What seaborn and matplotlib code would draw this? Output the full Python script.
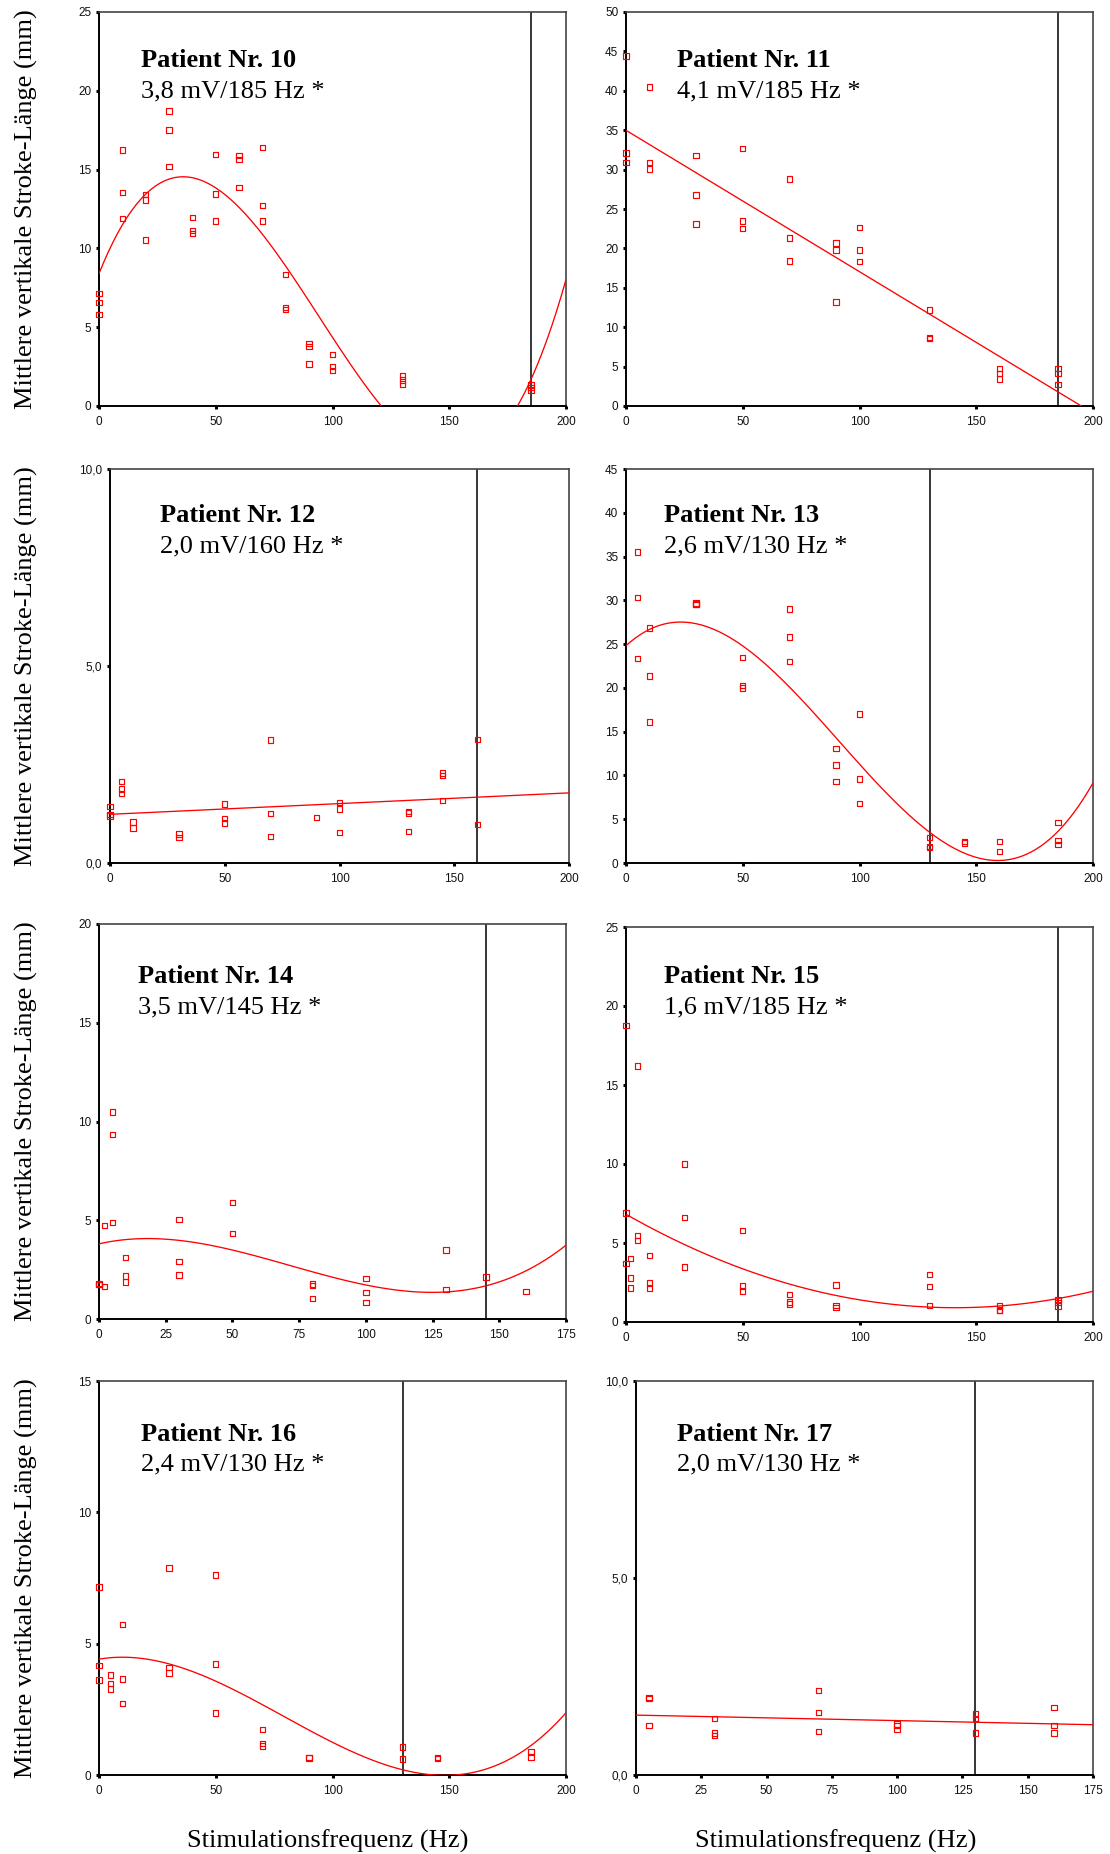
import numpy as np
import pandas as pd
import matplotlib
matplotlib.use("Agg")
import matplotlib.pyplot as plt
from matplotlib.ticker import FuncFormatter, MultipleLocator
import seaborn as sns

# ---------------------------------------------------------------------------
# Measured stroke length (mm) per stimulation frequency (Hz), patients 10-17
# ---------------------------------------------------------------------------
p10_freq = [0, 0, 0, 10, 10, 10, 20, 20, 20, 30, 30, 30, 40, 40, 40, 50, 50, 50,
            60, 60, 60, 70, 70, 70, 80, 80, 80, 90, 90, 90, 100, 100, 100,
            130, 130, 130, 185, 185, 185]
p10_len = [7.15, 6.56, 5.82, 16.25, 13.55, 11.9, 13.42, 13.08, 10.54, 18.73, 17.52, 15.2,
           11.96, 11.13, 10.96, 15.94, 13.46, 11.75, 15.9, 15.64, 13.86, 16.4, 12.72, 11.75,
           8.36, 6.26, 6.12, 3.98, 3.77, 2.67, 3.28, 2.5, 2.24, 1.9, 1.65, 1.4, 1.33, 1.16, 1.02]

p11_freq = [0, 0, 0, 10, 10, 10, 30, 30, 30, 50, 50, 50, 70, 70, 70, 90, 90, 90,
            100, 100, 100, 130, 130, 130, 160, 160, 160, 185, 185, 185]
p11_len = [44.4, 32.1, 30.9, 40.5, 30.94, 30.1, 31.8, 26.8, 23.1, 32.7, 23.5, 22.5,
           28.8, 21.3, 18.4, 20.7, 19.8, 13.2, 22.65, 19.8, 18.3, 12.2, 8.66, 8.54,
           4.73, 4.1, 3.42, 4.73, 4.1, 2.75]

p12_freq = [0, 0, 0, 5, 5, 5, 10, 10, 30, 30, 50, 50, 50, 70, 70, 70, 90,
            100, 100, 100, 130, 130, 130, 145, 145, 145, 160, 160]
p12_len = [1.44, 1.23, 1.19, 2.07, 1.88, 1.77, 1.04, 0.89, 0.74, 0.65, 1.5, 1.13, 1.02,
           3.12, 1.25, 0.68, 1.15, 1.54, 1.37, 0.77, 1.31, 1.27, 0.80, 2.28, 2.22, 1.58,
           3.14, 0.98]

p13_freq = [5, 5, 5, 10, 10, 10, 30, 30, 30, 50, 50, 50, 70, 70, 70, 90, 90, 90,
            100, 100, 100, 130, 130, 130, 145, 145, 160, 160, 185, 185, 185]
p13_len = [35.5, 30.3, 23.35, 26.85, 21.34, 16.1, 29.7, 29.6, 29.5, 23.5, 20.3, 20.0,
           29.0, 25.8, 23.0, 13.1, 11.2, 9.3, 17.0, 9.6, 6.8, 2.9, 1.9, 1.8,
           2.47, 2.28, 2.47, 1.33, 4.6, 2.59, 2.09]

p14_freq = [0, 0, 0, 2, 2, 5, 5, 5, 10, 10, 10, 30, 30, 30, 50, 50, 80, 80, 80,
            100, 100, 100, 130, 130, 145, 160]
p14_len = [1.79, 1.76, 1.74, 4.74, 1.64, 10.48, 9.35, 4.88, 3.12, 2.18, 1.87, 5.03, 2.9,
           2.23, 5.89, 4.32, 1.77, 1.69, 1.03, 2.06, 1.33, 0.84, 3.49, 1.49, 2.13, 1.38]

p15_freq = [0, 0, 0, 2, 2, 2, 5, 5, 5, 10, 10, 10, 25, 25, 25, 50, 50, 50, 70, 70, 70,
            90, 90, 90, 130, 130, 130, 160, 160, 160, 185, 185, 185]
p15_len = [18.77, 6.91, 3.7, 4.0, 2.79, 2.14, 16.2, 5.48, 5.14, 4.2, 2.47, 2.14,
           10.0, 6.6, 3.47, 5.79, 2.28, 1.97, 1.75, 1.27, 1.14, 2.35, 1.06, 0.91,
           3.02, 2.26, 1.06, 1.01, 0.76, 0.72, 1.42, 1.23, 1.01]

p16_freq = [0, 0, 0, 5, 5, 5, 10, 10, 10, 30, 30, 30, 50, 50, 50, 70, 70, 70,
            90, 90, 130, 130, 145, 145, 185, 185]
p16_len = [7.16, 4.17, 3.62, 3.8, 3.49, 3.27, 5.74, 3.66, 2.72, 7.88, 4.09, 3.89,
           7.62, 4.22, 2.36, 1.74, 1.2, 1.1, 0.67, 0.65, 1.06, 0.61, 0.67, 0.62, 0.87, 0.68]

p17_freq = [5, 5, 5, 30, 30, 30, 70, 70, 70, 100, 100, 100, 130, 130, 130, 160, 160, 160]
p17_len = [1.96, 1.94, 1.25, 1.43, 1.07, 1.01, 2.15, 1.58, 1.1, 1.29, 1.25, 1.16,
           1.55, 1.44, 1.07, 1.72, 1.25, 1.07]

patient_ids = [10, 11, 12, 13, 14, 15, 16, 17]
settings = ["3,8 mV/185 Hz *", "4,1 mV/185 Hz *", "2,0 mV/160 Hz *", "2,6 mV/130 Hz *",
            "3,5 mV/145 Hz *", "1,6 mV/185 Hz *", "2,4 mV/130 Hz *", "2,0 mV/130 Hz *"]
chosen_freq = [185, 185, 160, 130, 145, 185, 130, 130]
fit_order = [3, 1, 1, 3, 3, 2, 3, 1]
y_max = [25, 50, 10, 45, 20, 25, 15, 10]
y_step = [5, 5, 5, 5, 5, 5, 5, 5]
x_max = [200, 200, 200, 200, 175, 200, 200, 175]
x_step = [50, 50, 50, 50, 25, 50, 50, 25]
decimal_ticks = [False, False, True, False, False, False, False, True]

freqs = [p10_freq, p11_freq, p12_freq, p13_freq, p14_freq, p15_freq, p16_freq, p17_freq]
lengths = [p10_len, p11_len, p12_len, p13_len, p14_len, p15_len, p16_len, p17_len]

frames = []
for pid, f, l in zip(patient_ids, freqs, lengths):
    frames.append(pd.DataFrame({"patient": pid, "freq": f, "length": l}))
data = pd.concat(frames, ignore_index=True)

# ---------------------------------------------------------------------------
# Style
# ---------------------------------------------------------------------------
sns.set_theme(style="ticks")
plt.rcParams["font.family"] = ["Liberation Sans", "DejaVu Sans"]
plt.rcParams["axes.linewidth"] = 1.3

W, H = 1110, 1854
fig = plt.figure(figsize=(W / 100, H / 100), dpi=100)
fig.patch.set_facecolor("white")

# panel boxes in pixels: (left, top, right, bottom)
boxes = [(99, 12, 566, 406), (626, 12, 1093, 406),
         (110, 469, 569, 863), (626, 469, 1093, 863),
         (99, 924, 566, 1319), (626, 927, 1093, 1322),
         (99, 1381, 566, 1775), (636, 1381, 1093, 1775)]
# annotation anchors in axes fractions: (x, baseline line 1, baseline line 2)
title_pos = [(0.089, 0.861, 0.783), (0.109, 0.861, 0.783),
             (0.109, 0.865, 0.788), (0.082, 0.865, 0.788),
             (0.083, 0.850, 0.774), (0.082, 0.857, 0.782),
             (0.089, 0.848, 0.772), (0.089, 0.848, 0.772)]

serif = ["Liberation Serif", "DejaVu Serif"]
RED = "#ff0000"

for i, pid in enumerate(patient_ids):
    x0, y0, x1, y1 = boxes[i]
    ax = fig.add_axes([x0 / W, 1 - y1 / H, (x1 - x0) / W, (y1 - y0) / H])
    sub = data[data["patient"] == pid]

    ax.set_xlim(0, x_max[i])
    ax.set_ylim(0, y_max[i])

    ax.axvline(chosen_freq[i], color="black", lw=1.1, zorder=2)

    sns.regplot(data=sub, x="freq", y="length", order=fit_order[i], ci=None,
                scatter=False, truncate=False, ax=ax,
                line_kws=dict(color=RED, lw=0.95, zorder=3))

    sns.scatterplot(data=sub, x="freq", y="length", marker="s", s=15,
                    facecolor="none", edgecolor=RED, linewidth=0.85,
                    ax=ax, zorder=4, clip_on=False, legend=False)

    ax.set_xlim(0, x_max[i])
    ax.set_ylim(0, y_max[i])
    ax.xaxis.set_major_locator(MultipleLocator(x_step[i]))
    ax.yaxis.set_major_locator(MultipleLocator(y_step[i]))
    if decimal_ticks[i]:
        ax.yaxis.set_major_formatter(
            FuncFormatter(lambda v, p: f"{v:.1f}".replace(".", ",")))
    else:
        ax.yaxis.set_major_formatter(FuncFormatter(lambda v, p: f"{v:.0f}"))
    ax.xaxis.set_major_formatter(FuncFormatter(lambda v, p: f"{v:.0f}"))

    ax.tick_params(axis="both", direction="out", length=2.5, width=2.2,
                   color="black", labelsize=8.5, labelcolor="#111111")
    ax.tick_params(axis="x", pad=5)
    ax.tick_params(axis="y", pad=3)
    ax.set_xlabel("")
    ax.set_ylabel("")
    for side in ["left", "bottom"]:
        ax.spines[side].set_color("black")
        ax.spines[side].set_linewidth(1.4)
    for side in ["top", "right"]:
        ax.spines[side].set_visible(True)
        ax.spines[side].set_color("#444444")
        ax.spines[side].set_linewidth(1.2)

    tx, b1, b2 = title_pos[i]
    ax.text(tx, b1, f"Patient Nr. {pid}", transform=ax.transAxes, ha="left",
            va="baseline", fontsize=19, fontweight="bold", family=serif, color="black")
    ax.text(tx, b2, settings[i], transform=ax.transAxes, ha="left",
            va="baseline", fontsize=19, family=serif, color="black")

    # y-axis caption for the left column
    if i % 2 == 0:
        yc = 1 - (y0 + y1) / 2 / H
        fig.text(26 / W, yc, "Mittlere vertikale Stroke-Länge (mm)", rotation=90,
                 ha="center", va="center", fontsize=19, family=serif, color="black")

# x-axis captions under the bottom row
for xc in (328, 836):
    fig.text(xc / W, 1 - 1848 / H, "Stimulationsfrequenz (Hz)", ha="center",
             va="baseline", fontsize=19, family=serif, color="black")

fig.savefig("out.png", dpi=100, facecolor="white")
